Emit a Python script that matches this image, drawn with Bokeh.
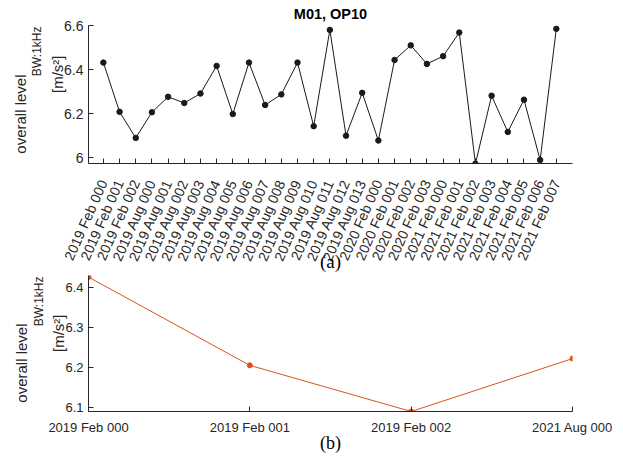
import math
from bokeh.plotting import figure
from bokeh.models import Range1d, FixedTicker, NumeralTickFormatter, Title, LinearAxis
from bokeh.layouts import column
from bokeh.embed import file_html
from bokeh.resources import INLINE

# ---------------- data ----------------
top_title = "M01, OP10"
top_labels = [
    "2019 Feb 000", "2019 Feb 001", "2019 Feb 002",
    "2019 Aug 000", "2019 Aug 001", "2019 Aug 002", "2019 Aug 003", "2019 Aug 004",
    "2019 Aug 005", "2019 Aug 006", "2019 Aug 007", "2019 Aug 008", "2019 Aug 009",
    "2019 Aug 010", "2019 Aug 011", "2019 Aug 012", "2019 Aug 013",
    "2020 Feb 000", "2020 Feb 001", "2020 Feb 002", "2020 Feb 003",
    "2021 Feb 000", "2021 Feb 001", "2021 Feb 002", "2021 Feb 003",
    "2021 Feb 004", "2021 Feb 005", "2021 Feb 006", "2021 Feb 007",
]
top_values = [6.432, 6.209, 6.091, 6.207, 6.277, 6.249, 6.292, 6.417, 6.199, 6.432,
              6.240, 6.288, 6.432, 6.144, 6.580, 6.101, 6.295, 6.079, 6.444, 6.510,
              6.426, 6.461, 6.568, 5.974, 6.282, 6.118, 6.264, 5.991, 6.585]
top_yticks = [6.0, 6.2, 6.4, 6.6]

bottom_labels = ["2019 Feb 000", "2019 Feb 001", "2019 Feb 002", "2021 Aug 000"]
bottom_values = [6.427, 6.205, 6.089, 6.222]
bottom_yticks = [6.1, 6.2, 6.3, 6.4]

ylabel_main = "overall level"
ylabel_sub = "BW:1kHz"
ylabel_unit = "[m/s\u00b2]"
caption_a = "(a)"
caption_b = "(b)"

# ---------------- styling ----------------
FONT = "Liberation Sans"
SERIF = "Liberation Serif"
TXT = "#262626"
ORANGE = "#D95319"
W = 623
H1 = 275
H2 = 182
SHIFT = 7  # rotated tick labels end this many px below their tick


def style(p, tick_font):
    p.outline_line_color = None
    p.xgrid.visible = False
    p.ygrid.visible = False
    p.background_fill_color = "white"
    p.border_fill_color = "white"
    for ax in (p.xaxis, p.yaxis):
        ax.axis_line_color = TXT
        ax.major_tick_line_color = TXT
        ax.major_tick_in = 5
        ax.major_tick_out = 0
        ax.minor_tick_line_color = None
        ax.major_label_text_font = FONT
        ax.major_label_text_font_size = tick_font
        ax.major_label_text_color = TXT


def text_axis(p, py_end, text, size, standoff, frame_top, frame_h):
    """A bare left axis whose single rotated tick label carries a piece of the y label.
    The label reads bottom-to-top and ends near page row py_end."""
    r = p.y_range
    py = max(py_end - SHIFT, frame_top + 1)  # keep the tick inside the range
    val = round(r.end - (py - frame_top) * (r.end - r.start) / frame_h, 5)
    ax = LinearAxis(ticker=FixedTicker(ticks=[val], minor_ticks=[]))
    ax.major_label_overrides = {val: text}
    ax.major_label_orientation = math.pi / 2
    ax.major_label_standoff = standoff
    ax.major_label_text_font = FONT
    ax.major_label_text_font_size = size
    ax.major_label_text_color = TXT
    ax.axis_line_color = None
    ax.major_tick_line_color = None
    ax.minor_tick_line_color = None
    ax.major_tick_in = 0
    ax.major_tick_out = 0
    p.add_layout(ax, "left")


def ylabel(p, frame_top, frame_h, join_py, unit_top_py):
    w_sub = 50.0
    text_axis(p, unit_top_py, ylabel_unit, "15px", 4, frame_top, frame_h)
    text_axis(p, join_py - w_sub, ylabel_sub, "12px", 0, frame_top, frame_h)
    text_axis(p, join_py, ylabel_main, "15px", 0, frame_top, frame_h)


# ---------------- top figure ----------------
p1 = figure(width=W, height=H1, output_backend="svg", toolbar_location=None,
            title=None, x_range=Range1d(-0.92, 29.0), y_range=Range1d(5.975, 6.6),
            min_border_left=84, min_border_right=51, min_border_top=25,
            min_border_bottom=H1 - 25 - 138)
style(p1, "14px")
xs1 = list(range(len(top_values)))
p1.line(xs1, top_values, line_color="#1a1a1a", line_width=1)
p1.scatter(xs1, top_values, size=5.5, fill_color="#1a1a1a", line_color="#1a1a1a")
p1.xaxis.ticker = FixedTicker(ticks=xs1, minor_ticks=[])
p1.xaxis.major_label_overrides = {i: s for i, s in enumerate(top_labels)}
p1.xaxis.major_label_orientation = math.radians(66)
p1.xaxis.major_label_standoff = 17
p1.yaxis.ticker = FixedTicker(ticks=top_yticks, minor_ticks=[])
p1.yaxis.formatter = NumeralTickFormatter(format="0.[0]")
p1.yaxis.major_label_standoff = 5
ylabel(p1, 25, 138, 81, 62)
p1.add_layout(Title(text=top_title, align="center", standoff=4, vertical_align="top",
                    text_font=FONT, text_font_size="14.5px", text_font_style="bold",
                    text_color="#000000"), "above")
p1.add_layout(Title(text=caption_a, align="center", standoff=-38, vertical_align="top",
                    text_font=SERIF, text_font_size="19px", text_font_style="normal",
                    text_color="#000000"), "below")

# ---------------- bottom figure ----------------
p2 = figure(width=W, height=H2, output_backend="svg", toolbar_location=None,
            title=None, x_range=Range1d(0, 3), y_range=Range1d(6.089, 6.431),
            min_border_left=83, min_border_right=51, min_border_top=0,
            min_border_bottom=H2 - 136)
style(p2, "13px")
xs2 = list(range(len(bottom_values)))
p2.line(xs2, bottom_values, line_color=ORANGE, line_width=1)
p2.scatter(xs2, bottom_values, size=5, fill_color=ORANGE, line_color=ORANGE)
p2.xaxis.ticker = FixedTicker(ticks=xs2, minor_ticks=[])
p2.xaxis.major_label_overrides = {i: s for i, s in enumerate(bottom_labels)}
p2.xaxis.major_label_standoff = 8
p2.yaxis.ticker = FixedTicker(ticks=bottom_yticks, minor_ticks=[])
p2.yaxis.major_label_standoff = 5
ylabel(p2, 0, 136, 330 - 275, 321 - 275)
p2.add_layout(Title(text=caption_b, align="center", standoff=-10, vertical_align="top",
                    text_font=SERIF, text_font_size="18px", text_font_style="normal",
                    text_color="#000000"), "below")

layout = column(p1, p2, spacing=0)
open("out.html", "w").write(file_html(layout, INLINE))
